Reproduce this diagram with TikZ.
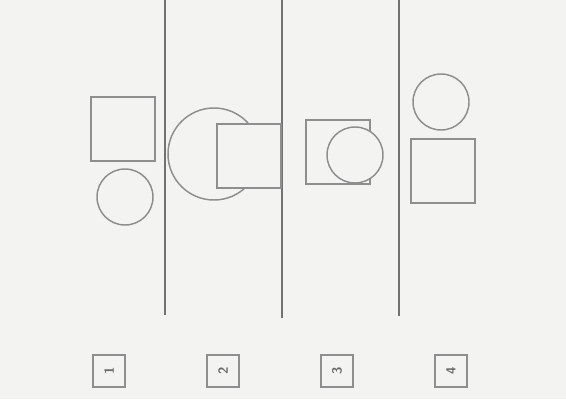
\documentclass[tikz,border=0pt]{standalone}
\usetikzlibrary{positioning}
\definecolor{paper}{HTML}{F3F3F2}
\definecolor{pencil}{HTML}{8E8E8E}
\tikzset{
  sq/.style={draw=pencil,line width=1.1pt,fill=paper,minimum size=48pt,inner sep=0pt},
  rnd/.style={draw=pencil,line width=1.1pt,fill=paper,circle,inner sep=0pt},
  numbox/.style={draw=pencil,line width=1pt,minimum size=24pt,inner sep=0pt,
    rotate=90,font=\sffamily\bfseries,text=pencil!75!black},
  divider/.style={draw=pencil!80!black,line width=0.8pt}
}
\begin{document}
\begin{tikzpicture}[x=0.75pt,y=-0.75pt]
\fill[paper] (0,0) rectangle (566,399);
\useasboundingbox (0,0) rectangle (566,399);
% dividers
\draw[divider] (165,0)--(165,315);
\draw[divider] (282,0)--(282,318);
\draw[divider] (399,0)--(399,316);
% panel 1
\node[sq] (sqA) at (123,129) {};
\node[rnd,minimum size=42pt] (ciA) at (125,197) {};
% panel 2
\node[rnd,minimum size=69pt] (ciB) at (214,154) {};
\node[sq] (sqB) at (249,156) {};
% panel 3
\node[sq] (sqC) at (338,152) {};
\node[rnd,minimum size=42pt] (ciC) at (355,155) {};
% panel 4
\node[rnd,minimum size=42pt] (ciD) at (441,102) {};
\node[sq] (sqD) at (443,171) {};
% numbers
\node[numbox] (nA) at (109,371) {1};
\node[numbox] (nB) at (223,371) {2};
\node[numbox] (nC) at (337,371) {3};
\node[numbox] (nD) at (451,371) {4};
\end{tikzpicture}
\end{document}
